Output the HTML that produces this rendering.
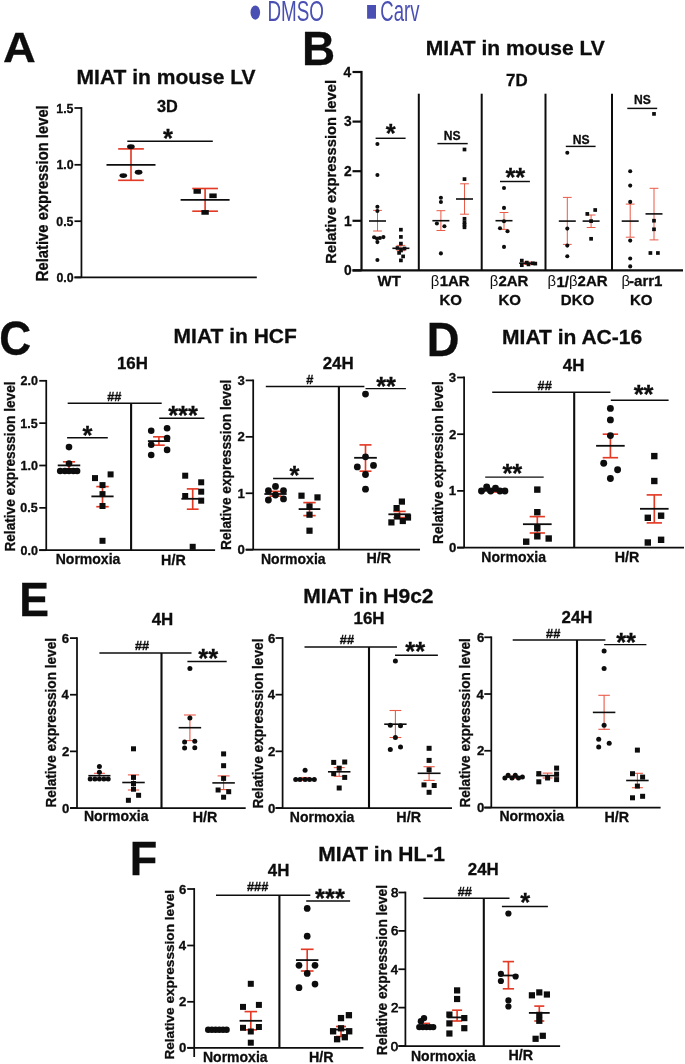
<!DOCTYPE html>
<html><head><meta charset="utf-8"><style>
html,body{margin:0;padding:0;background:#fff;width:685px;height:1064px;overflow:hidden}
svg{display:block;will-change:transform}
text{font-family:"Liberation Sans",sans-serif}
</style></head><body>
<svg width="685" height="1064" viewBox="0 0 685 1064">
<rect width="685" height="1064" fill="#fff"/>
<ellipse cx="255.30" cy="12.60" rx="4.8" ry="7.1" fill="#4a4fb4"/>
<rect x="367.1" y="5" width="8.9" height="13.7" fill="#4a4fb4"/>
<line x1="81.45" y1="107.12" x2="81.45" y2="277.40" stroke="#0d0d0d" stroke-width="1.75"/>
<line x1="74.45" y1="108.00" x2="81.45" y2="108.00" stroke="#0d0d0d" stroke-width="1.75"/>
<line x1="74.45" y1="164.80" x2="81.45" y2="164.80" stroke="#0d0d0d" stroke-width="1.75"/>
<line x1="74.45" y1="221.20" x2="81.45" y2="221.20" stroke="#0d0d0d" stroke-width="1.75"/>
<line x1="74.45" y1="277.40" x2="81.45" y2="277.40" stroke="#0d0d0d" stroke-width="1.75"/>
<line x1="74.50" y1="277.40" x2="256.80" y2="277.40" stroke="#0d0d0d" stroke-width="1.75"/>
<line x1="127.30" y1="141.30" x2="212.80" y2="141.30" stroke="#0d0d0d" stroke-width="1.45"/>
<line x1="131.00" y1="148.90" x2="131.00" y2="180.30" stroke="#e33a25" stroke-width="1.65"/>
<line x1="118.15" y1="148.90" x2="143.85" y2="148.90" stroke="#e33a25" stroke-width="1.65"/>
<line x1="118.15" y1="180.30" x2="143.85" y2="180.30" stroke="#e33a25" stroke-width="1.65"/>
<line x1="106.50" y1="164.80" x2="155.50" y2="164.80" stroke="#0d0d0d" stroke-width="1.8"/>
<ellipse cx="130.90" cy="146.70" rx="3.85" ry="2.45" fill="#0d0d0d"/>
<ellipse cx="123.30" cy="175.60" rx="3.85" ry="2.45" fill="#0d0d0d"/>
<ellipse cx="138.60" cy="172.30" rx="3.85" ry="2.45" fill="#0d0d0d"/>
<line x1="205.10" y1="188.50" x2="205.10" y2="211.20" stroke="#e33a25" stroke-width="1.65"/>
<line x1="192.25" y1="188.50" x2="217.95" y2="188.50" stroke="#e33a25" stroke-width="1.65"/>
<line x1="192.25" y1="211.20" x2="217.95" y2="211.20" stroke="#e33a25" stroke-width="1.65"/>
<line x1="180.60" y1="199.90" x2="229.60" y2="199.90" stroke="#0d0d0d" stroke-width="1.8"/>
<rect x="193.50" y="189.05" width="7.4" height="4.7" fill="#0d0d0d"/>
<rect x="209.30" y="193.45" width="7.4" height="4.7" fill="#0d0d0d"/>
<rect x="201.40" y="210.05" width="7.4" height="4.7" fill="#0d0d0d"/>
<line x1="361.50" y1="70.90" x2="361.50" y2="270.40" stroke="#0d0d0d" stroke-width="2.2"/>
<line x1="352.50" y1="72.00" x2="361.50" y2="72.00" stroke="#0d0d0d" stroke-width="2.2"/>
<line x1="352.50" y1="121.60" x2="361.50" y2="121.60" stroke="#0d0d0d" stroke-width="2.2"/>
<line x1="352.50" y1="171.20" x2="361.50" y2="171.20" stroke="#0d0d0d" stroke-width="2.2"/>
<line x1="352.50" y1="220.80" x2="361.50" y2="220.80" stroke="#0d0d0d" stroke-width="2.2"/>
<line x1="352.50" y1="270.40" x2="361.50" y2="270.40" stroke="#0d0d0d" stroke-width="2.2"/>
<line x1="352.50" y1="270.40" x2="683.00" y2="270.40" stroke="#0d0d0d" stroke-width="2.4"/>
<line x1="418.80" y1="93.70" x2="418.80" y2="270.40" stroke="#0d0d0d" stroke-width="2.0"/>
<line x1="481.70" y1="93.70" x2="481.70" y2="270.40" stroke="#0d0d0d" stroke-width="2.0"/>
<line x1="545.50" y1="93.70" x2="545.50" y2="270.40" stroke="#0d0d0d" stroke-width="2.0"/>
<line x1="612.00" y1="93.70" x2="612.00" y2="270.40" stroke="#0d0d0d" stroke-width="2.0"/>
<line x1="375.60" y1="138.30" x2="405.60" y2="138.30" stroke="#0d0d0d" stroke-width="1.45"/>
<line x1="437.40" y1="143.60" x2="467.70" y2="143.60" stroke="#0d0d0d" stroke-width="1.45"/>
<line x1="500.00" y1="181.50" x2="529.90" y2="181.50" stroke="#0d0d0d" stroke-width="1.45"/>
<line x1="565.80" y1="146.40" x2="595.60" y2="146.40" stroke="#0d0d0d" stroke-width="1.45"/>
<line x1="627.30" y1="108.40" x2="657.20" y2="108.40" stroke="#0d0d0d" stroke-width="1.45"/>
<line x1="377.50" y1="210.40" x2="377.50" y2="231.00" stroke="#e95a47" stroke-width="1.0"/>
<line x1="373.10" y1="210.40" x2="381.90" y2="210.40" stroke="#e95a47" stroke-width="1.0"/>
<line x1="373.10" y1="231.00" x2="381.90" y2="231.00" stroke="#e95a47" stroke-width="1.0"/>
<line x1="369.00" y1="221.00" x2="386.00" y2="221.00" stroke="#0d0d0d" stroke-width="1.6"/>
<circle cx="377.40" cy="144.00" r="2.05" fill="#0d0d0d"/>
<circle cx="377.40" cy="175.00" r="2.05" fill="#0d0d0d"/>
<circle cx="377.40" cy="206.70" r="2.05" fill="#0d0d0d"/>
<circle cx="377.40" cy="211.00" r="2.05" fill="#0d0d0d"/>
<circle cx="374.10" cy="237.30" r="2.05" fill="#0d0d0d"/>
<circle cx="377.00" cy="238.60" r="2.05" fill="#0d0d0d"/>
<circle cx="379.90" cy="238.00" r="2.05" fill="#0d0d0d"/>
<circle cx="383.40" cy="237.10" r="2.05" fill="#0d0d0d"/>
<circle cx="377.40" cy="242.10" r="2.05" fill="#0d0d0d"/>
<circle cx="377.40" cy="260.00" r="2.05" fill="#0d0d0d"/>
<line x1="400.90" y1="245.40" x2="400.90" y2="250.70" stroke="#e95a47" stroke-width="1.0"/>
<line x1="396.50" y1="245.40" x2="405.30" y2="245.40" stroke="#e95a47" stroke-width="1.0"/>
<line x1="396.50" y1="250.70" x2="405.30" y2="250.70" stroke="#e95a47" stroke-width="1.0"/>
<line x1="392.40" y1="248.30" x2="409.40" y2="248.30" stroke="#0d0d0d" stroke-width="1.6"/>
<rect x="399.05" y="227.85" width="3.7" height="3.7" fill="#0d0d0d"/>
<rect x="399.05" y="235.05" width="3.7" height="3.7" fill="#0d0d0d"/>
<rect x="399.05" y="241.75" width="3.7" height="3.7" fill="#0d0d0d"/>
<rect x="395.65" y="246.15" width="3.7" height="3.7" fill="#0d0d0d"/>
<rect x="402.65" y="246.65" width="3.7" height="3.7" fill="#0d0d0d"/>
<rect x="397.25" y="251.05" width="3.7" height="3.7" fill="#0d0d0d"/>
<rect x="401.25" y="254.55" width="3.7" height="3.7" fill="#0d0d0d"/>
<rect x="399.05" y="258.55" width="3.7" height="3.7" fill="#0d0d0d"/>
<rect x="399.15" y="248.65" width="3.7" height="3.7" fill="#0d0d0d"/>
<line x1="440.90" y1="210.70" x2="440.90" y2="230.50" stroke="#e95a47" stroke-width="1.0"/>
<line x1="436.50" y1="210.70" x2="445.30" y2="210.70" stroke="#e95a47" stroke-width="1.0"/>
<line x1="436.50" y1="230.50" x2="445.30" y2="230.50" stroke="#e95a47" stroke-width="1.0"/>
<line x1="432.40" y1="220.70" x2="449.40" y2="220.70" stroke="#0d0d0d" stroke-width="1.6"/>
<circle cx="440.90" cy="197.80" r="2.05" fill="#0d0d0d"/>
<circle cx="440.90" cy="202.00" r="2.05" fill="#0d0d0d"/>
<circle cx="436.90" cy="223.50" r="2.05" fill="#0d0d0d"/>
<circle cx="444.40" cy="226.30" r="2.05" fill="#0d0d0d"/>
<circle cx="440.90" cy="253.40" r="2.05" fill="#0d0d0d"/>
<line x1="464.50" y1="183.80" x2="464.50" y2="214.20" stroke="#e95a47" stroke-width="1.0"/>
<line x1="460.10" y1="183.80" x2="468.90" y2="183.80" stroke="#e95a47" stroke-width="1.0"/>
<line x1="460.10" y1="214.20" x2="468.90" y2="214.20" stroke="#e95a47" stroke-width="1.0"/>
<line x1="456.00" y1="199.00" x2="473.00" y2="199.00" stroke="#0d0d0d" stroke-width="1.6"/>
<rect x="462.65" y="147.65" width="3.7" height="3.7" fill="#0d0d0d"/>
<rect x="462.65" y="177.25" width="3.7" height="3.7" fill="#0d0d0d"/>
<rect x="462.65" y="216.95" width="3.7" height="3.7" fill="#0d0d0d"/>
<rect x="462.65" y="220.45" width="3.7" height="3.7" fill="#0d0d0d"/>
<rect x="462.65" y="222.85" width="3.7" height="3.7" fill="#0d0d0d"/>
<rect x="462.65" y="225.45" width="3.7" height="3.7" fill="#0d0d0d"/>
<line x1="504.00" y1="212.50" x2="504.00" y2="229.40" stroke="#e95a47" stroke-width="1.0"/>
<line x1="499.60" y1="212.50" x2="508.40" y2="212.50" stroke="#e95a47" stroke-width="1.0"/>
<line x1="499.60" y1="229.40" x2="508.40" y2="229.40" stroke="#e95a47" stroke-width="1.0"/>
<line x1="495.50" y1="220.70" x2="512.50" y2="220.70" stroke="#0d0d0d" stroke-width="1.6"/>
<circle cx="504.00" cy="188.00" r="2.05" fill="#0d0d0d"/>
<circle cx="504.00" cy="207.90" r="2.05" fill="#0d0d0d"/>
<circle cx="504.00" cy="221.20" r="2.05" fill="#0d0d0d"/>
<circle cx="500.00" cy="228.20" r="2.05" fill="#0d0d0d"/>
<circle cx="507.50" cy="231.20" r="2.05" fill="#0d0d0d"/>
<circle cx="504.00" cy="246.90" r="2.05" fill="#0d0d0d"/>
<line x1="527.75" y1="262.00" x2="527.75" y2="264.40" stroke="#e95a47" stroke-width="1.0"/>
<line x1="523.35" y1="262.00" x2="532.15" y2="262.00" stroke="#e95a47" stroke-width="1.0"/>
<line x1="523.35" y1="264.40" x2="532.15" y2="264.40" stroke="#e95a47" stroke-width="1.0"/>
<line x1="519.20" y1="263.20" x2="536.30" y2="263.20" stroke="#0d0d0d" stroke-width="1.6"/>
<rect x="519.95" y="258.75" width="3.7" height="3.7" fill="#0d0d0d"/>
<rect x="519.95" y="263.35" width="3.7" height="3.7" fill="#0d0d0d"/>
<rect x="524.95" y="260.75" width="3.7" height="3.7" fill="#0d0d0d"/>
<rect x="526.65" y="262.55" width="3.7" height="3.7" fill="#0d0d0d"/>
<rect x="530.95" y="261.45" width="3.7" height="3.7" fill="#0d0d0d"/>
<rect x="533.45" y="261.75" width="3.7" height="3.7" fill="#0d0d0d"/>
<line x1="567.30" y1="197.40" x2="567.30" y2="244.40" stroke="#e95a47" stroke-width="1.0"/>
<line x1="562.90" y1="197.40" x2="571.70" y2="197.40" stroke="#e95a47" stroke-width="1.0"/>
<line x1="562.90" y1="244.40" x2="571.70" y2="244.40" stroke="#e95a47" stroke-width="1.0"/>
<line x1="558.80" y1="221.10" x2="575.80" y2="221.10" stroke="#0d0d0d" stroke-width="1.6"/>
<circle cx="567.30" cy="152.80" r="2.05" fill="#0d0d0d"/>
<circle cx="567.30" cy="228.60" r="2.05" fill="#0d0d0d"/>
<circle cx="567.30" cy="245.60" r="2.05" fill="#0d0d0d"/>
<circle cx="567.30" cy="256.20" r="2.05" fill="#0d0d0d"/>
<line x1="591.10" y1="215.00" x2="591.10" y2="227.50" stroke="#e95a47" stroke-width="1.0"/>
<line x1="586.70" y1="215.00" x2="595.50" y2="215.00" stroke="#e95a47" stroke-width="1.0"/>
<line x1="586.70" y1="227.50" x2="595.50" y2="227.50" stroke="#e95a47" stroke-width="1.0"/>
<line x1="582.60" y1="221.10" x2="599.60" y2="221.10" stroke="#0d0d0d" stroke-width="1.6"/>
<rect x="585.45" y="212.05" width="3.7" height="3.7" fill="#0d0d0d"/>
<rect x="593.35" y="208.15" width="3.7" height="3.7" fill="#0d0d0d"/>
<rect x="589.25" y="219.25" width="3.7" height="3.7" fill="#0d0d0d"/>
<rect x="589.25" y="236.95" width="3.7" height="3.7" fill="#0d0d0d"/>
<line x1="630.20" y1="204.10" x2="630.20" y2="237.20" stroke="#e95a47" stroke-width="1.0"/>
<line x1="625.80" y1="204.10" x2="634.60" y2="204.10" stroke="#e95a47" stroke-width="1.0"/>
<line x1="625.80" y1="237.20" x2="634.60" y2="237.20" stroke="#e95a47" stroke-width="1.0"/>
<line x1="621.70" y1="221.10" x2="638.70" y2="221.10" stroke="#0d0d0d" stroke-width="1.6"/>
<circle cx="630.20" cy="171.30" r="2.05" fill="#0d0d0d"/>
<circle cx="630.20" cy="185.60" r="2.05" fill="#0d0d0d"/>
<circle cx="630.20" cy="201.90" r="2.05" fill="#0d0d0d"/>
<circle cx="630.20" cy="240.60" r="2.05" fill="#0d0d0d"/>
<circle cx="630.20" cy="258.50" r="2.05" fill="#0d0d0d"/>
<circle cx="630.20" cy="266.40" r="2.05" fill="#0d0d0d"/>
<line x1="654.00" y1="188.30" x2="654.00" y2="239.90" stroke="#e95a47" stroke-width="1.0"/>
<line x1="649.60" y1="188.30" x2="658.40" y2="188.30" stroke="#e95a47" stroke-width="1.0"/>
<line x1="649.60" y1="239.90" x2="658.40" y2="239.90" stroke="#e95a47" stroke-width="1.0"/>
<line x1="645.50" y1="213.90" x2="662.50" y2="213.90" stroke="#0d0d0d" stroke-width="1.6"/>
<rect x="652.15" y="112.05" width="3.7" height="3.7" fill="#0d0d0d"/>
<rect x="652.15" y="218.85" width="3.7" height="3.7" fill="#0d0d0d"/>
<rect x="652.15" y="227.45" width="3.7" height="3.7" fill="#0d0d0d"/>
<rect x="648.55" y="251.15" width="3.7" height="3.7" fill="#0d0d0d"/>
<rect x="656.05" y="251.15" width="3.7" height="3.7" fill="#0d0d0d"/>
<line x1="46.25" y1="379.93" x2="46.25" y2="550.20" stroke="#0d0d0d" stroke-width="1.75"/>
<line x1="39.25" y1="380.80" x2="46.25" y2="380.80" stroke="#0d0d0d" stroke-width="1.75"/>
<line x1="39.25" y1="423.15" x2="46.25" y2="423.15" stroke="#0d0d0d" stroke-width="1.75"/>
<line x1="39.25" y1="465.50" x2="46.25" y2="465.50" stroke="#0d0d0d" stroke-width="1.75"/>
<line x1="39.25" y1="507.85" x2="46.25" y2="507.85" stroke="#0d0d0d" stroke-width="1.75"/>
<line x1="39.25" y1="550.20" x2="46.25" y2="550.20" stroke="#0d0d0d" stroke-width="1.75"/>
<line x1="39.20" y1="550.20" x2="215.10" y2="550.20" stroke="#0d0d0d" stroke-width="1.75"/>
<line x1="131.10" y1="403.30" x2="131.10" y2="550.20" stroke="#0d0d0d" stroke-width="2.1"/>
<line x1="67.70" y1="403.30" x2="161.70" y2="403.30" stroke="#0d0d0d" stroke-width="1.45"/>
<line x1="67.10" y1="437.70" x2="107.80" y2="437.70" stroke="#0d0d0d" stroke-width="1.45"/>
<line x1="159.20" y1="418.30" x2="204.40" y2="418.30" stroke="#0d0d0d" stroke-width="1.45"/>
<line x1="69.00" y1="461.80" x2="69.00" y2="468.80" stroke="#e33a25" stroke-width="1.65"/>
<line x1="62.90" y1="461.80" x2="75.10" y2="461.80" stroke="#e33a25" stroke-width="1.65"/>
<line x1="62.90" y1="468.80" x2="75.10" y2="468.80" stroke="#e33a25" stroke-width="1.65"/>
<circle cx="69.00" cy="447.10" r="3.3" fill="#0d0d0d"/>
<circle cx="69.00" cy="463.50" r="3.3" fill="#0d0d0d"/>
<circle cx="60.20" cy="471.00" r="3.3" fill="#0d0d0d"/>
<circle cx="64.90" cy="471.00" r="3.3" fill="#0d0d0d"/>
<circle cx="69.00" cy="471.00" r="3.3" fill="#0d0d0d"/>
<circle cx="73.40" cy="471.00" r="3.3" fill="#0d0d0d"/>
<circle cx="77.10" cy="471.00" r="3.3" fill="#0d0d0d"/>
<line x1="57.75" y1="465.40" x2="80.25" y2="465.40" stroke="#0d0d0d" stroke-width="1.8"/>
<line x1="102.50" y1="486.60" x2="102.50" y2="506.70" stroke="#e33a25" stroke-width="1.65"/>
<line x1="96.30" y1="486.60" x2="108.70" y2="486.60" stroke="#e33a25" stroke-width="1.65"/>
<line x1="96.30" y1="506.70" x2="108.70" y2="506.70" stroke="#e33a25" stroke-width="1.65"/>
<rect x="92.00" y="475.10" width="6.0" height="6.0" fill="#0d0d0d"/>
<rect x="107.60" y="471.40" width="6.0" height="6.0" fill="#0d0d0d"/>
<rect x="99.50" y="482.10" width="6.0" height="6.0" fill="#0d0d0d"/>
<rect x="99.50" y="491.10" width="6.0" height="6.0" fill="#0d0d0d"/>
<rect x="99.50" y="503.00" width="6.0" height="6.0" fill="#0d0d0d"/>
<rect x="99.50" y="537.80" width="6.0" height="6.0" fill="#0d0d0d"/>
<line x1="91.40" y1="496.40" x2="113.60" y2="496.40" stroke="#0d0d0d" stroke-width="1.8"/>
<line x1="158.90" y1="436.80" x2="158.90" y2="445.20" stroke="#e33a25" stroke-width="1.65"/>
<line x1="153.05" y1="436.80" x2="164.75" y2="436.80" stroke="#e33a25" stroke-width="1.65"/>
<line x1="153.05" y1="445.20" x2="164.75" y2="445.20" stroke="#e33a25" stroke-width="1.65"/>
<circle cx="151.20" cy="430.70" r="3.3" fill="#0d0d0d"/>
<circle cx="167.10" cy="428.30" r="3.3" fill="#0d0d0d"/>
<circle cx="167.10" cy="438.10" r="3.3" fill="#0d0d0d"/>
<circle cx="151.20" cy="444.70" r="3.3" fill="#0d0d0d"/>
<circle cx="167.10" cy="449.90" r="3.3" fill="#0d0d0d"/>
<circle cx="151.20" cy="455.00" r="3.3" fill="#0d0d0d"/>
<line x1="147.90" y1="441.10" x2="169.90" y2="441.10" stroke="#0d0d0d" stroke-width="1.8"/>
<line x1="192.70" y1="488.90" x2="192.70" y2="509.20" stroke="#e33a25" stroke-width="1.65"/>
<line x1="186.80" y1="488.90" x2="198.60" y2="488.90" stroke="#e33a25" stroke-width="1.65"/>
<line x1="186.80" y1="509.20" x2="198.60" y2="509.20" stroke="#e33a25" stroke-width="1.65"/>
<rect x="182.20" y="472.70" width="6.0" height="6.0" fill="#0d0d0d"/>
<rect x="198.20" y="479.30" width="6.0" height="6.0" fill="#0d0d0d"/>
<rect x="198.20" y="488.70" width="6.0" height="6.0" fill="#0d0d0d"/>
<rect x="182.20" y="493.00" width="6.0" height="6.0" fill="#0d0d0d"/>
<rect x="198.20" y="497.70" width="6.0" height="6.0" fill="#0d0d0d"/>
<rect x="189.70" y="543.80" width="6.0" height="6.0" fill="#0d0d0d"/>
<line x1="181.40" y1="498.80" x2="204.00" y2="498.80" stroke="#0d0d0d" stroke-width="1.8"/>
<line x1="253.20" y1="379.54" x2="253.20" y2="549.70" stroke="#0d0d0d" stroke-width="1.75"/>
<line x1="245.70" y1="380.41" x2="253.20" y2="380.41" stroke="#0d0d0d" stroke-width="1.75"/>
<line x1="245.70" y1="436.84" x2="253.20" y2="436.84" stroke="#0d0d0d" stroke-width="1.75"/>
<line x1="245.70" y1="493.27" x2="253.20" y2="493.27" stroke="#0d0d0d" stroke-width="1.75"/>
<line x1="245.70" y1="549.70" x2="253.20" y2="549.70" stroke="#0d0d0d" stroke-width="1.75"/>
<line x1="245.70" y1="549.70" x2="420.00" y2="549.70" stroke="#0d0d0d" stroke-width="1.75"/>
<line x1="338.90" y1="386.50" x2="338.90" y2="549.70" stroke="#0d0d0d" stroke-width="2.1"/>
<line x1="265.80" y1="386.50" x2="364.40" y2="386.50" stroke="#0d0d0d" stroke-width="1.45"/>
<line x1="273.10" y1="478.40" x2="313.80" y2="478.40" stroke="#0d0d0d" stroke-width="1.45"/>
<line x1="365.50" y1="388.60" x2="405.90" y2="388.60" stroke="#0d0d0d" stroke-width="1.45"/>
<line x1="275.50" y1="491.40" x2="275.50" y2="496.10" stroke="#e33a25" stroke-width="1.65"/>
<line x1="269.50" y1="491.40" x2="281.50" y2="491.40" stroke="#e33a25" stroke-width="1.65"/>
<line x1="269.50" y1="496.10" x2="281.50" y2="496.10" stroke="#e33a25" stroke-width="1.65"/>
<circle cx="275.50" cy="486.40" r="3.4" fill="#0d0d0d"/>
<circle cx="268.40" cy="490.70" r="3.4" fill="#0d0d0d"/>
<circle cx="283.50" cy="490.70" r="3.4" fill="#0d0d0d"/>
<circle cx="275.50" cy="495.00" r="3.4" fill="#0d0d0d"/>
<circle cx="268.40" cy="500.00" r="3.4" fill="#0d0d0d"/>
<circle cx="283.50" cy="498.90" r="3.4" fill="#0d0d0d"/>
<line x1="264.35" y1="494.00" x2="286.65" y2="494.00" stroke="#0d0d0d" stroke-width="1.8"/>
<line x1="309.50" y1="502.60" x2="309.50" y2="515.60" stroke="#e33a25" stroke-width="1.65"/>
<line x1="303.30" y1="502.60" x2="315.70" y2="502.60" stroke="#e33a25" stroke-width="1.65"/>
<line x1="303.30" y1="515.60" x2="315.70" y2="515.60" stroke="#e33a25" stroke-width="1.65"/>
<rect x="298.40" y="492.60" width="6.2" height="6.2" fill="#0d0d0d"/>
<rect x="314.40" y="494.30" width="6.2" height="6.2" fill="#0d0d0d"/>
<rect x="306.40" y="503.40" width="6.2" height="6.2" fill="#0d0d0d"/>
<rect x="306.40" y="511.60" width="6.2" height="6.2" fill="#0d0d0d"/>
<rect x="306.40" y="527.60" width="6.2" height="6.2" fill="#0d0d0d"/>
<line x1="298.65" y1="509.10" x2="320.35" y2="509.10" stroke="#0d0d0d" stroke-width="1.8"/>
<line x1="365.50" y1="444.90" x2="365.50" y2="471.20" stroke="#e33a25" stroke-width="1.65"/>
<line x1="359.50" y1="444.90" x2="371.50" y2="444.90" stroke="#e33a25" stroke-width="1.65"/>
<line x1="359.50" y1="471.20" x2="371.50" y2="471.20" stroke="#e33a25" stroke-width="1.65"/>
<circle cx="365.50" cy="394.10" r="3.4" fill="#0d0d0d"/>
<circle cx="365.50" cy="456.80" r="3.4" fill="#0d0d0d"/>
<circle cx="357.30" cy="466.90" r="3.4" fill="#0d0d0d"/>
<circle cx="373.50" cy="465.40" r="3.4" fill="#0d0d0d"/>
<circle cx="365.50" cy="474.50" r="3.4" fill="#0d0d0d"/>
<circle cx="365.50" cy="489.20" r="3.4" fill="#0d0d0d"/>
<line x1="354.15" y1="457.80" x2="376.85" y2="457.80" stroke="#0d0d0d" stroke-width="1.8"/>
<line x1="399.50" y1="511.40" x2="399.50" y2="517.60" stroke="#e33a25" stroke-width="1.65"/>
<line x1="393.30" y1="511.40" x2="405.70" y2="511.40" stroke="#e33a25" stroke-width="1.65"/>
<line x1="393.30" y1="517.60" x2="405.70" y2="517.60" stroke="#e33a25" stroke-width="1.65"/>
<rect x="398.80" y="498.50" width="6.2" height="6.2" fill="#0d0d0d"/>
<rect x="393.50" y="505.00" width="6.2" height="6.2" fill="#0d0d0d"/>
<rect x="394.10" y="513.40" width="6.2" height="6.2" fill="#0d0d0d"/>
<rect x="399.70" y="517.90" width="6.2" height="6.2" fill="#0d0d0d"/>
<rect x="404.90" y="514.40" width="6.2" height="6.2" fill="#0d0d0d"/>
<rect x="388.30" y="519.30" width="6.2" height="6.2" fill="#0d0d0d"/>
<line x1="388.40" y1="514.30" x2="410.60" y2="514.30" stroke="#0d0d0d" stroke-width="1.8"/>
<line x1="464.10" y1="376.62" x2="464.10" y2="547.60" stroke="#0d0d0d" stroke-width="1.75"/>
<line x1="457.10" y1="377.50" x2="464.10" y2="377.50" stroke="#0d0d0d" stroke-width="1.75"/>
<line x1="457.10" y1="434.20" x2="464.10" y2="434.20" stroke="#0d0d0d" stroke-width="1.75"/>
<line x1="457.10" y1="490.90" x2="464.10" y2="490.90" stroke="#0d0d0d" stroke-width="1.75"/>
<line x1="457.10" y1="547.60" x2="464.10" y2="547.60" stroke="#0d0d0d" stroke-width="1.75"/>
<line x1="457.20" y1="547.60" x2="684.00" y2="547.60" stroke="#0d0d0d" stroke-width="1.75"/>
<line x1="574.20" y1="392.30" x2="574.20" y2="547.60" stroke="#0d0d0d" stroke-width="2.1"/>
<line x1="492.20" y1="392.30" x2="610.40" y2="392.30" stroke="#0d0d0d" stroke-width="1.45"/>
<line x1="485.20" y1="477.10" x2="543.70" y2="477.10" stroke="#0d0d0d" stroke-width="1.45"/>
<line x1="610.80" y1="400.30" x2="668.60" y2="400.30" stroke="#0d0d0d" stroke-width="1.45"/>
<line x1="493.20" y1="489.50" x2="493.20" y2="492.00" stroke="#e33a25" stroke-width="1.65"/>
<line x1="487.20" y1="489.50" x2="499.20" y2="489.50" stroke="#e33a25" stroke-width="1.65"/>
<line x1="487.20" y1="492.00" x2="499.20" y2="492.00" stroke="#e33a25" stroke-width="1.65"/>
<circle cx="481.50" cy="491.00" r="3.45" fill="#0d0d0d"/>
<circle cx="486.70" cy="487.00" r="3.45" fill="#0d0d0d"/>
<circle cx="490.70" cy="491.00" r="3.45" fill="#0d0d0d"/>
<circle cx="495.50" cy="488.30" r="3.45" fill="#0d0d0d"/>
<circle cx="499.90" cy="491.00" r="3.45" fill="#0d0d0d"/>
<circle cx="504.90" cy="491.00" r="3.45" fill="#0d0d0d"/>
<line x1="481.20" y1="490.80" x2="505.20" y2="490.80" stroke="#0d0d0d" stroke-width="1.8"/>
<line x1="537.30" y1="516.60" x2="537.30" y2="533.00" stroke="#e33a25" stroke-width="1.65"/>
<line x1="529.65" y1="516.60" x2="544.95" y2="516.60" stroke="#e33a25" stroke-width="1.65"/>
<line x1="529.65" y1="533.00" x2="544.95" y2="533.00" stroke="#e33a25" stroke-width="1.65"/>
<rect x="534.10" y="486.40" width="6.4" height="6.4" fill="#0d0d0d"/>
<rect x="534.10" y="509.00" width="6.4" height="6.4" fill="#0d0d0d"/>
<rect x="534.10" y="525.00" width="6.4" height="6.4" fill="#0d0d0d"/>
<rect x="534.10" y="533.10" width="6.4" height="6.4" fill="#0d0d0d"/>
<rect x="523.00" y="538.50" width="6.4" height="6.4" fill="#0d0d0d"/>
<rect x="545.50" y="535.30" width="6.4" height="6.4" fill="#0d0d0d"/>
<line x1="522.95" y1="524.20" x2="551.65" y2="524.20" stroke="#0d0d0d" stroke-width="1.8"/>
<line x1="610.40" y1="434.20" x2="610.40" y2="457.70" stroke="#e33a25" stroke-width="1.65"/>
<line x1="602.70" y1="434.20" x2="618.10" y2="434.20" stroke="#e33a25" stroke-width="1.65"/>
<line x1="602.70" y1="457.70" x2="618.10" y2="457.70" stroke="#e33a25" stroke-width="1.65"/>
<circle cx="610.40" cy="408.40" r="3.45" fill="#0d0d0d"/>
<circle cx="610.40" cy="419.90" r="3.45" fill="#0d0d0d"/>
<circle cx="610.40" cy="435.60" r="3.45" fill="#0d0d0d"/>
<circle cx="603.70" cy="463.20" r="3.45" fill="#0d0d0d"/>
<circle cx="617.60" cy="469.70" r="3.45" fill="#0d0d0d"/>
<circle cx="610.40" cy="478.50" r="3.45" fill="#0d0d0d"/>
<line x1="596.10" y1="445.80" x2="624.70" y2="445.80" stroke="#0d0d0d" stroke-width="1.8"/>
<line x1="654.30" y1="494.90" x2="654.30" y2="522.90" stroke="#e33a25" stroke-width="1.65"/>
<line x1="646.65" y1="494.90" x2="661.95" y2="494.90" stroke="#e33a25" stroke-width="1.65"/>
<line x1="646.65" y1="522.90" x2="661.95" y2="522.90" stroke="#e33a25" stroke-width="1.65"/>
<rect x="651.10" y="452.90" width="6.4" height="6.4" fill="#0d0d0d"/>
<rect x="651.10" y="477.80" width="6.4" height="6.4" fill="#0d0d0d"/>
<rect x="644.60" y="514.60" width="6.4" height="6.4" fill="#0d0d0d"/>
<rect x="657.90" y="512.50" width="6.4" height="6.4" fill="#0d0d0d"/>
<rect x="644.60" y="539.30" width="6.4" height="6.4" fill="#0d0d0d"/>
<rect x="657.90" y="536.60" width="6.4" height="6.4" fill="#0d0d0d"/>
<line x1="640.00" y1="508.80" x2="668.60" y2="508.80" stroke="#0d0d0d" stroke-width="1.8"/>
<line x1="77.00" y1="637.23" x2="77.00" y2="808.00" stroke="#0d0d0d" stroke-width="1.75"/>
<line x1="70.00" y1="638.10" x2="77.00" y2="638.10" stroke="#0d0d0d" stroke-width="1.75"/>
<line x1="70.00" y1="694.73" x2="77.00" y2="694.73" stroke="#0d0d0d" stroke-width="1.75"/>
<line x1="70.00" y1="751.37" x2="77.00" y2="751.37" stroke="#0d0d0d" stroke-width="1.75"/>
<line x1="70.00" y1="808.00" x2="77.00" y2="808.00" stroke="#0d0d0d" stroke-width="1.75"/>
<line x1="70.00" y1="808.00" x2="245.70" y2="808.00" stroke="#0d0d0d" stroke-width="1.75"/>
<line x1="161.50" y1="653.00" x2="161.50" y2="808.00" stroke="#0d0d0d" stroke-width="2.1"/>
<line x1="99.40" y1="653.00" x2="191.50" y2="653.00" stroke="#0d0d0d" stroke-width="1.45"/>
<line x1="187.40" y1="661.50" x2="226.70" y2="661.50" stroke="#0d0d0d" stroke-width="1.45"/>
<line x1="99.40" y1="773.30" x2="99.40" y2="778.40" stroke="#ea5a48" stroke-width="1.1"/>
<line x1="93.90" y1="773.30" x2="104.90" y2="773.30" stroke="#ea5a48" stroke-width="1.1"/>
<line x1="93.90" y1="778.40" x2="104.90" y2="778.40" stroke="#ea5a48" stroke-width="1.1"/>
<circle cx="99.40" cy="766.50" r="2.5" fill="#0d0d0d"/>
<circle cx="99.40" cy="772.30" r="2.5" fill="#0d0d0d"/>
<circle cx="90.20" cy="779.00" r="2.5" fill="#0d0d0d"/>
<circle cx="94.90" cy="779.00" r="2.5" fill="#0d0d0d"/>
<circle cx="99.40" cy="779.00" r="2.5" fill="#0d0d0d"/>
<circle cx="103.90" cy="779.00" r="2.5" fill="#0d0d0d"/>
<circle cx="108.20" cy="779.00" r="2.5" fill="#0d0d0d"/>
<line x1="88.35" y1="775.70" x2="110.45" y2="775.70" stroke="#0d0d0d" stroke-width="1.6"/>
<line x1="133.50" y1="774.90" x2="133.50" y2="790.00" stroke="#ea5a48" stroke-width="1.1"/>
<line x1="127.90" y1="774.90" x2="139.10" y2="774.90" stroke="#ea5a48" stroke-width="1.1"/>
<line x1="127.90" y1="790.00" x2="139.10" y2="790.00" stroke="#ea5a48" stroke-width="1.1"/>
<rect x="131.00" y="746.30" width="5.0" height="5.0" fill="#0d0d0d"/>
<rect x="131.00" y="774.90" width="5.0" height="5.0" fill="#0d0d0d"/>
<rect x="131.00" y="781.00" width="5.0" height="5.0" fill="#0d0d0d"/>
<rect x="131.00" y="786.70" width="5.0" height="5.0" fill="#0d0d0d"/>
<rect x="136.10" y="792.80" width="5.0" height="5.0" fill="#0d0d0d"/>
<rect x="125.90" y="797.80" width="5.0" height="5.0" fill="#0d0d0d"/>
<line x1="122.25" y1="782.50" x2="144.75" y2="782.50" stroke="#0d0d0d" stroke-width="1.6"/>
<line x1="189.90" y1="715.00" x2="189.90" y2="740.60" stroke="#ea5a48" stroke-width="1.1"/>
<line x1="184.00" y1="715.00" x2="195.80" y2="715.00" stroke="#ea5a48" stroke-width="1.1"/>
<line x1="184.00" y1="740.60" x2="195.80" y2="740.60" stroke="#ea5a48" stroke-width="1.1"/>
<circle cx="189.90" cy="668.40" r="2.5" fill="#0d0d0d"/>
<circle cx="189.90" cy="718.10" r="2.5" fill="#0d0d0d"/>
<circle cx="184.60" cy="742.00" r="2.5" fill="#0d0d0d"/>
<circle cx="194.80" cy="741.20" r="2.5" fill="#0d0d0d"/>
<circle cx="184.60" cy="748.10" r="2.5" fill="#0d0d0d"/>
<circle cx="194.80" cy="747.70" r="2.5" fill="#0d0d0d"/>
<line x1="178.65" y1="727.70" x2="201.15" y2="727.70" stroke="#0d0d0d" stroke-width="1.6"/>
<line x1="223.60" y1="775.90" x2="223.60" y2="789.60" stroke="#ea5a48" stroke-width="1.1"/>
<line x1="217.60" y1="775.90" x2="229.60" y2="775.90" stroke="#ea5a48" stroke-width="1.1"/>
<line x1="217.60" y1="789.60" x2="229.60" y2="789.60" stroke="#ea5a48" stroke-width="1.1"/>
<rect x="221.10" y="751.40" width="5.0" height="5.0" fill="#0d0d0d"/>
<rect x="221.10" y="763.20" width="5.0" height="5.0" fill="#0d0d0d"/>
<rect x="221.10" y="775.90" width="5.0" height="5.0" fill="#0d0d0d"/>
<rect x="215.60" y="787.50" width="5.0" height="5.0" fill="#0d0d0d"/>
<rect x="226.20" y="789.20" width="5.0" height="5.0" fill="#0d0d0d"/>
<rect x="221.10" y="794.70" width="5.0" height="5.0" fill="#0d0d0d"/>
<line x1="212.35" y1="782.90" x2="234.85" y2="782.90" stroke="#0d0d0d" stroke-width="1.6"/>
<line x1="282.60" y1="637.12" x2="282.60" y2="808.00" stroke="#0d0d0d" stroke-width="1.75"/>
<line x1="275.60" y1="638.00" x2="282.60" y2="638.00" stroke="#0d0d0d" stroke-width="1.75"/>
<line x1="275.60" y1="694.67" x2="282.60" y2="694.67" stroke="#0d0d0d" stroke-width="1.75"/>
<line x1="275.60" y1="751.33" x2="282.60" y2="751.33" stroke="#0d0d0d" stroke-width="1.75"/>
<line x1="275.60" y1="808.00" x2="282.60" y2="808.00" stroke="#0d0d0d" stroke-width="1.75"/>
<line x1="275.60" y1="808.00" x2="452.00" y2="808.00" stroke="#0d0d0d" stroke-width="1.75"/>
<line x1="369.00" y1="647.00" x2="369.00" y2="808.00" stroke="#0d0d0d" stroke-width="2.1"/>
<line x1="304.50" y1="647.00" x2="397.00" y2="647.00" stroke="#0d0d0d" stroke-width="1.45"/>
<line x1="395.00" y1="655.20" x2="437.90" y2="655.20" stroke="#0d0d0d" stroke-width="1.45"/>
<line x1="305.10" y1="777.50" x2="305.10" y2="780.50" stroke="#ea5a48" stroke-width="1.1"/>
<line x1="301.10" y1="777.50" x2="309.10" y2="777.50" stroke="#ea5a48" stroke-width="1.1"/>
<line x1="301.10" y1="780.50" x2="309.10" y2="780.50" stroke="#ea5a48" stroke-width="1.1"/>
<circle cx="305.10" cy="770.20" r="2.5" fill="#0d0d0d"/>
<circle cx="295.70" cy="779.40" r="2.5" fill="#0d0d0d"/>
<circle cx="300.00" cy="779.40" r="2.5" fill="#0d0d0d"/>
<circle cx="305.10" cy="779.40" r="2.5" fill="#0d0d0d"/>
<circle cx="309.60" cy="779.40" r="2.5" fill="#0d0d0d"/>
<circle cx="314.30" cy="779.40" r="2.5" fill="#0d0d0d"/>
<line x1="294.10" y1="779.00" x2="316.10" y2="779.00" stroke="#0d0d0d" stroke-width="1.6"/>
<line x1="339.20" y1="767.60" x2="339.20" y2="776.30" stroke="#ea5a48" stroke-width="1.1"/>
<line x1="333.70" y1="767.60" x2="344.70" y2="767.60" stroke="#ea5a48" stroke-width="1.1"/>
<line x1="333.70" y1="776.30" x2="344.70" y2="776.30" stroke="#ea5a48" stroke-width="1.1"/>
<rect x="331.20" y="759.90" width="5.0" height="5.0" fill="#0d0d0d"/>
<rect x="342.20" y="759.50" width="5.0" height="5.0" fill="#0d0d0d"/>
<rect x="336.70" y="765.70" width="5.0" height="5.0" fill="#0d0d0d"/>
<rect x="331.20" y="771.20" width="5.0" height="5.0" fill="#0d0d0d"/>
<rect x="342.20" y="774.90" width="5.0" height="5.0" fill="#0d0d0d"/>
<rect x="336.70" y="785.50" width="5.0" height="5.0" fill="#0d0d0d"/>
<line x1="327.95" y1="771.80" x2="350.45" y2="771.80" stroke="#0d0d0d" stroke-width="1.6"/>
<line x1="395.40" y1="710.50" x2="395.40" y2="737.50" stroke="#ea5a48" stroke-width="1.1"/>
<line x1="389.50" y1="710.50" x2="401.30" y2="710.50" stroke="#ea5a48" stroke-width="1.1"/>
<line x1="389.50" y1="737.50" x2="401.30" y2="737.50" stroke="#ea5a48" stroke-width="1.1"/>
<circle cx="395.40" cy="660.90" r="2.5" fill="#0d0d0d"/>
<circle cx="390.30" cy="725.30" r="2.5" fill="#0d0d0d"/>
<circle cx="400.50" cy="725.70" r="2.5" fill="#0d0d0d"/>
<circle cx="395.40" cy="737.50" r="2.5" fill="#0d0d0d"/>
<circle cx="390.30" cy="749.40" r="2.5" fill="#0d0d0d"/>
<circle cx="400.50" cy="747.10" r="2.5" fill="#0d0d0d"/>
<line x1="384.20" y1="724.20" x2="406.60" y2="724.20" stroke="#0d0d0d" stroke-width="1.6"/>
<line x1="429.10" y1="766.70" x2="429.10" y2="780.40" stroke="#ea5a48" stroke-width="1.1"/>
<line x1="423.50" y1="766.70" x2="434.70" y2="766.70" stroke="#ea5a48" stroke-width="1.1"/>
<line x1="423.50" y1="780.40" x2="434.70" y2="780.40" stroke="#ea5a48" stroke-width="1.1"/>
<rect x="426.60" y="745.80" width="5.0" height="5.0" fill="#0d0d0d"/>
<rect x="426.60" y="757.90" width="5.0" height="5.0" fill="#0d0d0d"/>
<rect x="426.60" y="767.30" width="5.0" height="5.0" fill="#0d0d0d"/>
<rect x="421.50" y="782.40" width="5.0" height="5.0" fill="#0d0d0d"/>
<rect x="431.70" y="783.00" width="5.0" height="5.0" fill="#0d0d0d"/>
<rect x="426.60" y="789.80" width="5.0" height="5.0" fill="#0d0d0d"/>
<line x1="417.65" y1="773.30" x2="440.55" y2="773.30" stroke="#0d0d0d" stroke-width="1.6"/>
<line x1="491.30" y1="636.42" x2="491.30" y2="807.50" stroke="#0d0d0d" stroke-width="1.75"/>
<line x1="484.30" y1="637.30" x2="491.30" y2="637.30" stroke="#0d0d0d" stroke-width="1.75"/>
<line x1="484.30" y1="694.03" x2="491.30" y2="694.03" stroke="#0d0d0d" stroke-width="1.75"/>
<line x1="484.30" y1="750.77" x2="491.30" y2="750.77" stroke="#0d0d0d" stroke-width="1.75"/>
<line x1="484.30" y1="807.50" x2="491.30" y2="807.50" stroke="#0d0d0d" stroke-width="1.75"/>
<line x1="484.30" y1="807.50" x2="660.60" y2="807.50" stroke="#0d0d0d" stroke-width="1.75"/>
<line x1="577.00" y1="640.00" x2="577.00" y2="807.50" stroke="#0d0d0d" stroke-width="2.1"/>
<line x1="512.70" y1="640.00" x2="605.40" y2="640.00" stroke="#0d0d0d" stroke-width="1.45"/>
<line x1="604.10" y1="644.60" x2="646.40" y2="644.60" stroke="#0d0d0d" stroke-width="1.45"/>
<line x1="513.50" y1="776.00" x2="513.50" y2="778.50" stroke="#ea5a48" stroke-width="1.1"/>
<line x1="509.50" y1="776.00" x2="517.50" y2="776.00" stroke="#ea5a48" stroke-width="1.1"/>
<line x1="509.50" y1="778.50" x2="517.50" y2="778.50" stroke="#ea5a48" stroke-width="1.1"/>
<circle cx="504.90" cy="778.00" r="2.5" fill="#0d0d0d"/>
<circle cx="508.10" cy="775.30" r="2.5" fill="#0d0d0d"/>
<circle cx="512.00" cy="778.00" r="2.5" fill="#0d0d0d"/>
<circle cx="515.30" cy="775.30" r="2.5" fill="#0d0d0d"/>
<circle cx="518.50" cy="778.00" r="2.5" fill="#0d0d0d"/>
<circle cx="522.40" cy="776.90" r="2.5" fill="#0d0d0d"/>
<line x1="503.50" y1="777.00" x2="523.50" y2="777.00" stroke="#0d0d0d" stroke-width="1.6"/>
<line x1="547.60" y1="773.10" x2="547.60" y2="778.00" stroke="#ea5a48" stroke-width="1.1"/>
<line x1="542.60" y1="773.10" x2="552.60" y2="773.10" stroke="#ea5a48" stroke-width="1.1"/>
<line x1="542.60" y1="778.00" x2="552.60" y2="778.00" stroke="#ea5a48" stroke-width="1.1"/>
<rect x="536.30" y="771.10" width="5.0" height="5.0" fill="#0d0d0d"/>
<rect x="536.30" y="779.30" width="5.0" height="5.0" fill="#0d0d0d"/>
<rect x="545.10" y="775.50" width="5.0" height="5.0" fill="#0d0d0d"/>
<rect x="554.10" y="765.60" width="5.0" height="5.0" fill="#0d0d0d"/>
<rect x="554.10" y="771.70" width="5.0" height="5.0" fill="#0d0d0d"/>
<rect x="554.10" y="777.10" width="5.0" height="5.0" fill="#0d0d0d"/>
<line x1="536.35" y1="775.60" x2="558.85" y2="775.60" stroke="#0d0d0d" stroke-width="1.6"/>
<line x1="604.10" y1="695.30" x2="604.10" y2="729.30" stroke="#ea5a48" stroke-width="1.1"/>
<line x1="598.35" y1="695.30" x2="609.85" y2="695.30" stroke="#ea5a48" stroke-width="1.1"/>
<line x1="598.35" y1="729.30" x2="609.85" y2="729.30" stroke="#ea5a48" stroke-width="1.1"/>
<circle cx="604.10" cy="650.90" r="2.5" fill="#0d0d0d"/>
<circle cx="604.10" cy="668.40" r="2.5" fill="#0d0d0d"/>
<circle cx="604.10" cy="725.30" r="2.5" fill="#0d0d0d"/>
<circle cx="598.70" cy="739.20" r="2.5" fill="#0d0d0d"/>
<circle cx="609.20" cy="743.30" r="2.5" fill="#0d0d0d"/>
<circle cx="598.70" cy="747.10" r="2.5" fill="#0d0d0d"/>
<line x1="592.85" y1="712.40" x2="615.35" y2="712.40" stroke="#0d0d0d" stroke-width="1.6"/>
<line x1="637.40" y1="773.30" x2="637.40" y2="787.70" stroke="#ea5a48" stroke-width="1.1"/>
<line x1="631.90" y1="773.30" x2="642.90" y2="773.30" stroke="#ea5a48" stroke-width="1.1"/>
<line x1="631.90" y1="787.70" x2="642.90" y2="787.70" stroke="#ea5a48" stroke-width="1.1"/>
<rect x="634.90" y="747.60" width="5.0" height="5.0" fill="#0d0d0d"/>
<rect x="630.00" y="771.20" width="5.0" height="5.0" fill="#0d0d0d"/>
<rect x="640.10" y="774.60" width="5.0" height="5.0" fill="#0d0d0d"/>
<rect x="634.90" y="783.60" width="5.0" height="5.0" fill="#0d0d0d"/>
<rect x="630.00" y="795.30" width="5.0" height="5.0" fill="#0d0d0d"/>
<rect x="640.10" y="793.80" width="5.0" height="5.0" fill="#0d0d0d"/>
<line x1="626.15" y1="780.50" x2="648.65" y2="780.50" stroke="#0d0d0d" stroke-width="1.6"/>
<line x1="194.20" y1="888.12" x2="194.20" y2="1057.00" stroke="#0d0d0d" stroke-width="1.75"/>
<line x1="187.20" y1="889.00" x2="194.20" y2="889.00" stroke="#0d0d0d" stroke-width="1.75"/>
<line x1="187.20" y1="945.50" x2="194.20" y2="945.50" stroke="#0d0d0d" stroke-width="1.75"/>
<line x1="187.20" y1="1001.80" x2="194.20" y2="1001.80" stroke="#0d0d0d" stroke-width="1.75"/>
<line x1="187.20" y1="1047.80" x2="194.20" y2="1047.80" stroke="#0d0d0d" stroke-width="1.75"/>
<line x1="187.40" y1="1047.80" x2="363.40" y2="1047.80" stroke="#0d0d0d" stroke-width="1.8"/>
<line x1="279.40" y1="895.20" x2="279.40" y2="1047.80" stroke="#0d0d0d" stroke-width="2.1"/>
<line x1="216.00" y1="895.20" x2="310.30" y2="895.20" stroke="#0d0d0d" stroke-width="1.45"/>
<line x1="306.20" y1="900.90" x2="350.10" y2="900.90" stroke="#0d0d0d" stroke-width="1.45"/>
<line x1="217.40" y1="1028.50" x2="217.40" y2="1030.50" stroke="#e33a25" stroke-width="1.65"/>
<line x1="212.40" y1="1028.50" x2="222.40" y2="1028.50" stroke="#e33a25" stroke-width="1.65"/>
<line x1="212.40" y1="1030.50" x2="222.40" y2="1030.50" stroke="#e33a25" stroke-width="1.65"/>
<circle cx="208.20" cy="1029.80" r="3.2" fill="#0d0d0d"/>
<circle cx="211.90" cy="1029.80" r="3.2" fill="#0d0d0d"/>
<circle cx="215.60" cy="1029.80" r="3.2" fill="#0d0d0d"/>
<circle cx="219.30" cy="1029.80" r="3.2" fill="#0d0d0d"/>
<circle cx="223.00" cy="1029.80" r="3.2" fill="#0d0d0d"/>
<circle cx="226.60" cy="1029.80" r="3.2" fill="#0d0d0d"/>
<line x1="206.40" y1="1029.50" x2="228.40" y2="1029.50" stroke="#0d0d0d" stroke-width="1.8"/>
<line x1="250.80" y1="1011.60" x2="250.80" y2="1029.80" stroke="#e33a25" stroke-width="1.65"/>
<line x1="244.55" y1="1011.60" x2="257.05" y2="1011.60" stroke="#e33a25" stroke-width="1.65"/>
<line x1="244.55" y1="1029.80" x2="257.05" y2="1029.80" stroke="#e33a25" stroke-width="1.65"/>
<rect x="247.80" y="980.80" width="6.0" height="6.0" fill="#0d0d0d"/>
<rect x="240.00" y="1003.90" width="6.0" height="6.0" fill="#0d0d0d"/>
<rect x="255.90" y="1001.90" width="6.0" height="6.0" fill="#0d0d0d"/>
<rect x="240.00" y="1024.80" width="6.0" height="6.0" fill="#0d0d0d"/>
<rect x="255.90" y="1024.00" width="6.0" height="6.0" fill="#0d0d0d"/>
<rect x="247.80" y="1028.50" width="6.0" height="6.0" fill="#0d0d0d"/>
<rect x="247.80" y="1039.70" width="6.0" height="6.0" fill="#0d0d0d"/>
<line x1="239.55" y1="1020.80" x2="262.05" y2="1020.80" stroke="#0d0d0d" stroke-width="1.8"/>
<line x1="307.20" y1="949.30" x2="307.20" y2="971.00" stroke="#e33a25" stroke-width="1.65"/>
<line x1="300.85" y1="949.30" x2="313.55" y2="949.30" stroke="#e33a25" stroke-width="1.65"/>
<line x1="300.85" y1="971.00" x2="313.55" y2="971.00" stroke="#e33a25" stroke-width="1.65"/>
<circle cx="307.20" cy="908.40" r="3.35" fill="#0d0d0d"/>
<circle cx="307.20" cy="936.20" r="3.35" fill="#0d0d0d"/>
<circle cx="299.00" cy="965.30" r="3.35" fill="#0d0d0d"/>
<circle cx="315.00" cy="965.30" r="3.35" fill="#0d0d0d"/>
<circle cx="307.20" cy="973.40" r="3.35" fill="#0d0d0d"/>
<circle cx="299.00" cy="987.70" r="3.35" fill="#0d0d0d"/>
<circle cx="315.00" cy="984.10" r="3.35" fill="#0d0d0d"/>
<line x1="295.95" y1="960.10" x2="318.45" y2="960.10" stroke="#0d0d0d" stroke-width="1.8"/>
<line x1="341.00" y1="1026.50" x2="341.00" y2="1036.50" stroke="#e33a25" stroke-width="1.65"/>
<line x1="336.00" y1="1026.50" x2="346.00" y2="1026.50" stroke="#e33a25" stroke-width="1.65"/>
<line x1="336.00" y1="1036.50" x2="346.00" y2="1036.50" stroke="#e33a25" stroke-width="1.65"/>
<rect x="337.85" y="1014.95" width="6.3" height="6.3" fill="#0d0d0d"/>
<rect x="345.75" y="1012.05" width="6.3" height="6.3" fill="#0d0d0d"/>
<rect x="329.95" y="1028.15" width="6.3" height="6.3" fill="#0d0d0d"/>
<rect x="337.85" y="1025.15" width="6.3" height="6.3" fill="#0d0d0d"/>
<rect x="346.05" y="1028.15" width="6.3" height="6.3" fill="#0d0d0d"/>
<rect x="333.95" y="1036.05" width="6.3" height="6.3" fill="#0d0d0d"/>
<rect x="341.65" y="1034.05" width="6.3" height="6.3" fill="#0d0d0d"/>
<line x1="330.00" y1="1029.60" x2="352.00" y2="1029.60" stroke="#0d0d0d" stroke-width="1.8"/>
<line x1="405.40" y1="891.62" x2="405.40" y2="1046.00" stroke="#0d0d0d" stroke-width="1.75"/>
<line x1="398.40" y1="892.50" x2="405.40" y2="892.50" stroke="#0d0d0d" stroke-width="1.75"/>
<line x1="398.40" y1="930.88" x2="405.40" y2="930.88" stroke="#0d0d0d" stroke-width="1.75"/>
<line x1="398.40" y1="969.25" x2="405.40" y2="969.25" stroke="#0d0d0d" stroke-width="1.75"/>
<line x1="398.40" y1="1007.62" x2="405.40" y2="1007.62" stroke="#0d0d0d" stroke-width="1.75"/>
<line x1="398.40" y1="1046.00" x2="405.40" y2="1046.00" stroke="#0d0d0d" stroke-width="1.75"/>
<line x1="398.50" y1="1046.00" x2="560.10" y2="1046.00" stroke="#0d0d0d" stroke-width="1.75"/>
<line x1="483.80" y1="898.20" x2="483.80" y2="1046.00" stroke="#0d0d0d" stroke-width="2.1"/>
<line x1="423.40" y1="898.20" x2="509.50" y2="898.20" stroke="#0d0d0d" stroke-width="1.45"/>
<line x1="501.90" y1="906.40" x2="547.90" y2="906.40" stroke="#0d0d0d" stroke-width="1.45"/>
<line x1="426.50" y1="1023.40" x2="426.50" y2="1028.00" stroke="#e33a25" stroke-width="1.65"/>
<line x1="422.90" y1="1023.40" x2="430.10" y2="1023.40" stroke="#e33a25" stroke-width="1.65"/>
<line x1="422.90" y1="1028.00" x2="430.10" y2="1028.00" stroke="#e33a25" stroke-width="1.65"/>
<circle cx="424.00" cy="1018.10" r="3.2" fill="#0d0d0d"/>
<circle cx="420.90" cy="1021.20" r="3.2" fill="#0d0d0d"/>
<circle cx="419.30" cy="1027.10" r="3.2" fill="#0d0d0d"/>
<circle cx="422.80" cy="1027.10" r="3.2" fill="#0d0d0d"/>
<circle cx="426.40" cy="1027.10" r="3.2" fill="#0d0d0d"/>
<circle cx="430.00" cy="1027.10" r="3.2" fill="#0d0d0d"/>
<circle cx="433.20" cy="1027.10" r="3.2" fill="#0d0d0d"/>
<line x1="417.50" y1="1026.00" x2="435.50" y2="1026.00" stroke="#0d0d0d" stroke-width="1.8"/>
<line x1="457.10" y1="1010.20" x2="457.10" y2="1021.00" stroke="#e33a25" stroke-width="1.65"/>
<line x1="452.10" y1="1010.20" x2="462.10" y2="1010.20" stroke="#e33a25" stroke-width="1.65"/>
<line x1="452.10" y1="1021.00" x2="462.10" y2="1021.00" stroke="#e33a25" stroke-width="1.65"/>
<rect x="454.00" y="987.30" width="6.2" height="6.2" fill="#0d0d0d"/>
<rect x="454.00" y="995.90" width="6.2" height="6.2" fill="#0d0d0d"/>
<rect x="446.30" y="1011.50" width="6.2" height="6.2" fill="#0d0d0d"/>
<rect x="461.20" y="1015.00" width="6.2" height="6.2" fill="#0d0d0d"/>
<rect x="446.30" y="1020.30" width="6.2" height="6.2" fill="#0d0d0d"/>
<rect x="461.20" y="1025.10" width="6.2" height="6.2" fill="#0d0d0d"/>
<rect x="446.30" y="1030.40" width="6.2" height="6.2" fill="#0d0d0d"/>
<line x1="447.40" y1="1017.40" x2="466.80" y2="1017.40" stroke="#0d0d0d" stroke-width="1.8"/>
<line x1="508.40" y1="961.60" x2="508.40" y2="988.80" stroke="#e33a25" stroke-width="1.65"/>
<line x1="502.75" y1="961.60" x2="514.05" y2="961.60" stroke="#e33a25" stroke-width="1.65"/>
<line x1="502.75" y1="988.80" x2="514.05" y2="988.80" stroke="#e33a25" stroke-width="1.65"/>
<circle cx="508.40" cy="913.50" r="3.1" fill="#0d0d0d"/>
<circle cx="500.90" cy="973.80" r="3.1" fill="#0d0d0d"/>
<circle cx="515.60" cy="976.50" r="3.1" fill="#0d0d0d"/>
<circle cx="500.90" cy="981.00" r="3.1" fill="#0d0d0d"/>
<circle cx="508.40" cy="1000.40" r="3.1" fill="#0d0d0d"/>
<circle cx="508.40" cy="1006.50" r="3.1" fill="#0d0d0d"/>
<line x1="498.50" y1="975.50" x2="518.30" y2="975.50" stroke="#0d0d0d" stroke-width="1.8"/>
<line x1="539.30" y1="1006.10" x2="539.30" y2="1021.00" stroke="#e33a25" stroke-width="1.65"/>
<line x1="534.30" y1="1006.10" x2="544.30" y2="1006.10" stroke="#e33a25" stroke-width="1.65"/>
<line x1="534.30" y1="1021.00" x2="544.30" y2="1021.00" stroke="#e33a25" stroke-width="1.65"/>
<rect x="528.80" y="992.20" width="6.2" height="6.2" fill="#0d0d0d"/>
<rect x="536.20" y="989.30" width="6.2" height="6.2" fill="#0d0d0d"/>
<rect x="543.80" y="991.40" width="6.2" height="6.2" fill="#0d0d0d"/>
<rect x="536.20" y="1011.80" width="6.2" height="6.2" fill="#0d0d0d"/>
<rect x="536.20" y="1017.70" width="6.2" height="6.2" fill="#0d0d0d"/>
<rect x="532.50" y="1035.70" width="6.2" height="6.2" fill="#0d0d0d"/>
<rect x="539.70" y="1032.70" width="6.2" height="6.2" fill="#0d0d0d"/>
<line x1="528.90" y1="1012.90" x2="549.70" y2="1012.90" stroke="#0d0d0d" stroke-width="1.8"/>
<text transform="translate(267.49,21.41) scale(0.656,1)" font-size="28.73"  fill="#4a4fb4">DMSO</text>
<text transform="translate(380.37,21.41) scale(0.639,1)" font-size="29.01"  fill="#4a4fb4">Carv</text>
<text transform="translate(3.02,61.68) scale(1.055,1)" font-size="43.02" font-weight="bold" stroke="#0d0d0d" stroke-width="0.28" fill="#0d0d0d">A</text>
<text transform="translate(302.07,64.70) scale(0.960,1)" font-size="47.83" font-weight="bold" stroke="#0d0d0d" stroke-width="0.31" fill="#0d0d0d">B</text>
<text transform="translate(-0.71,354.52) scale(0.916,1)" font-size="48.17" font-weight="bold" stroke="#0d0d0d" stroke-width="0.33" fill="#0d0d0d">C</text>
<text transform="translate(426.70,355.50) scale(0.954,1)" font-size="47.54" font-weight="bold" stroke="#0d0d0d" stroke-width="0.31" fill="#0d0d0d">D</text>
<text transform="translate(19.15,615.80) scale(0.935,1)" font-size="47.68" font-weight="bold" stroke="#0d0d0d" stroke-width="0.32" fill="#0d0d0d">E</text>
<text transform="translate(129.82,875.10) scale(0.937,1)" font-size="48.12" font-weight="bold" stroke="#0d0d0d" stroke-width="0.32" fill="#0d0d0d">F</text>
<text transform="translate(76.61,83.69)" font-size="21.00" font-weight="bold" stroke="#0d0d0d" stroke-width="0.30" fill="#0d0d0d">MIAT in mouse LV</text>
<text transform="translate(425.86,55.49)" font-size="21.00" font-weight="bold" stroke="#0d0d0d" stroke-width="0.30" fill="#0d0d0d">MIAT in mouse LV</text>
<text transform="translate(173.60,343.19)" font-size="21.00" font-weight="bold" stroke="#0d0d0d" stroke-width="0.30" fill="#0d0d0d">MIAT in HCF</text>
<text transform="translate(502.08,343.59)" font-size="21.00" font-weight="bold" stroke="#0d0d0d" stroke-width="0.30" fill="#0d0d0d">MIAT in AC-16</text>
<text transform="translate(303.24,602.79)" font-size="21.00" font-weight="bold" stroke="#0d0d0d" stroke-width="0.30" fill="#0d0d0d">MIAT in H9c2</text>
<text transform="translate(318.21,861.19)" font-size="21.00" font-weight="bold" stroke="#0d0d0d" stroke-width="0.30" fill="#0d0d0d">MIAT in HL-1</text>
<text transform="translate(157.03,111.54)" font-size="16.30" font-weight="bold" stroke="#0d0d0d" stroke-width="0.30" fill="#0d0d0d">3D</text>
<text transform="translate(506.03,85.62)" font-size="16.90" font-weight="bold" stroke="#0d0d0d" stroke-width="0.30" fill="#0d0d0d">7D</text>
<text transform="translate(116.89,369.43)" font-size="16.90" font-weight="bold" stroke="#0d0d0d" stroke-width="0.30" fill="#0d0d0d">16H</text>
<text transform="translate(322.70,369.20)" font-size="16.90" font-weight="bold" stroke="#0d0d0d" stroke-width="0.30" fill="#0d0d0d">24H</text>
<text transform="translate(562.80,370.80)" font-size="16.90" font-weight="bold" stroke="#0d0d0d" stroke-width="0.30" fill="#0d0d0d">4H</text>
<text transform="translate(151.70,624.90)" font-size="16.90" font-weight="bold" stroke="#0d0d0d" stroke-width="0.30" fill="#0d0d0d">4H</text>
<text transform="translate(353.49,623.63)" font-size="16.90" font-weight="bold" stroke="#0d0d0d" stroke-width="0.30" fill="#0d0d0d">16H</text>
<text transform="translate(561.55,623.40)" font-size="16.90" font-weight="bold" stroke="#0d0d0d" stroke-width="0.30" fill="#0d0d0d">24H</text>
<text transform="translate(267.85,875.90)" font-size="16.90" font-weight="bold" stroke="#0d0d0d" stroke-width="0.30" fill="#0d0d0d">4H</text>
<text transform="translate(467.75,875.30)" font-size="16.90" font-weight="bold" stroke="#0d0d0d" stroke-width="0.30" fill="#0d0d0d">24H</text>
<text transform="translate(48.00,281.16) rotate(-90) scale(0.907,1)" font-size="16.31" font-weight="bold" stroke="#0d0d0d" stroke-width="0.30" fill="#0d0d0d">Relative expression level</text>
<text transform="translate(56.32,112.52) scale(0.930,1)" font-size="13.30" font-weight="bold" stroke="#0d0d0d" stroke-width="0.32" fill="#0d0d0d">1.5</text>
<text transform="translate(56.50,169.39) scale(0.930,1)" font-size="13.30" font-weight="bold" stroke="#0d0d0d" stroke-width="0.32" fill="#0d0d0d">1.0</text>
<text transform="translate(56.32,225.79) scale(0.930,1)" font-size="13.30" font-weight="bold" stroke="#0d0d0d" stroke-width="0.32" fill="#0d0d0d">0.5</text>
<text transform="translate(56.50,281.99) scale(0.930,1)" font-size="13.30" font-weight="bold" stroke="#0d0d0d" stroke-width="0.32" fill="#0d0d0d">0.0</text>
<text transform="translate(163.06,146.93)" font-size="25.50" font-weight="bold" stroke="#0d0d0d" stroke-width="0.30" fill="#0d0d0d">*</text>
<text transform="translate(336.00,263.76) rotate(-90) scale(0.973,1)" font-size="15.18" font-weight="bold" stroke="#0d0d0d" stroke-width="0.30" fill="#0d0d0d">Relative expresssion level</text>
<text transform="translate(343.61,76.76)" font-size="13.80" font-weight="bold" stroke="#0d0d0d" stroke-width="0.30" fill="#0d0d0d">4</text>
<text transform="translate(344.02,126.36)" font-size="13.80" font-weight="bold" stroke="#0d0d0d" stroke-width="0.30" fill="#0d0d0d">3</text>
<text transform="translate(344.09,176.03)" font-size="13.80" font-weight="bold" stroke="#0d0d0d" stroke-width="0.30" fill="#0d0d0d">2</text>
<text transform="translate(343.89,225.56)" font-size="13.80" font-weight="bold" stroke="#0d0d0d" stroke-width="0.30" fill="#0d0d0d">1</text>
<text transform="translate(344.09,275.16)" font-size="13.80" font-weight="bold" stroke="#0d0d0d" stroke-width="0.30" fill="#0d0d0d">0</text>
<text transform="translate(385.71,142.33)" font-size="25.50" font-weight="bold" stroke="#0d0d0d" stroke-width="0.30" fill="#0d0d0d">*</text>
<text transform="translate(443.65,140.47) scale(0.930,1)" font-size="13.00" font-weight="bold" stroke="#0d0d0d" stroke-width="0.32" fill="#0d0d0d">NS</text>
<text transform="translate(505.41,186.03)" font-size="25.50" font-weight="bold" stroke="#0d0d0d" stroke-width="0.30" fill="#0d0d0d">**</text>
<text transform="translate(572.70,143.87) scale(0.930,1)" font-size="13.00" font-weight="bold" stroke="#0d0d0d" stroke-width="0.32" fill="#0d0d0d">NS</text>
<text transform="translate(634.05,104.47) scale(0.930,1)" font-size="13.00" font-weight="bold" stroke="#0d0d0d" stroke-width="0.32" fill="#0d0d0d">NS</text>
<text transform="translate(377.56,285.80)" font-size="15.00" font-weight="bold" stroke="#0d0d0d" stroke-width="0.30" fill="#0d0d0d">WT</text>
<text transform="translate(430.77,286.19)" font-size="14.80"  fill="#0d0d0d">β</text>
<text transform="translate(439.65,286.43)" font-size="15.00" font-weight="bold" stroke="#0d0d0d" stroke-width="0.30" fill="#0d0d0d">1AR</text>
<text transform="translate(489.82,286.19)" font-size="14.80"  fill="#0d0d0d">β</text>
<text transform="translate(498.39,286.43)" font-size="15.00" font-weight="bold" stroke="#0d0d0d" stroke-width="0.30" fill="#0d0d0d">2AR</text>
<text transform="translate(547.57,286.19)" font-size="14.80"  fill="#0d0d0d">β</text>
<text transform="translate(556.41,287.12)" font-size="15.00" font-weight="bold" stroke="#0d0d0d" stroke-width="0.30" fill="#0d0d0d">1/</text>
<text transform="translate(569.02,286.19)" font-size="14.80"  fill="#0d0d0d">β</text>
<text transform="translate(577.59,286.23)" font-size="15.00" font-weight="bold" stroke="#0d0d0d" stroke-width="0.30" fill="#0d0d0d">2AR</text>
<text transform="translate(621.62,286.19)" font-size="14.80"  fill="#0d0d0d">β</text>
<text transform="translate(629.04,286.05)" font-size="15.00" font-weight="bold" stroke="#0d0d0d" stroke-width="0.30" fill="#0d0d0d">-arr1</text>
<text transform="translate(439.51,304.65)" font-size="15.00" font-weight="bold" stroke="#0d0d0d" stroke-width="0.30" fill="#0d0d0d">KO</text>
<text transform="translate(498.51,304.65)" font-size="15.00" font-weight="bold" stroke="#0d0d0d" stroke-width="0.30" fill="#0d0d0d">KO</text>
<text transform="translate(560.81,304.65)" font-size="15.00" font-weight="bold" stroke="#0d0d0d" stroke-width="0.30" fill="#0d0d0d">DKO</text>
<text transform="translate(630.01,304.65)" font-size="15.00" font-weight="bold" stroke="#0d0d0d" stroke-width="0.30" fill="#0d0d0d">KO</text>
<text transform="translate(14.90,551.59) rotate(-90) scale(0.994,1)" font-size="13.76" font-weight="bold" stroke="#0d0d0d" stroke-width="0.30" fill="#0d0d0d">Relative expresssion level</text>
<text transform="translate(20.47,385.35) scale(0.950,1)" font-size="13.20" font-weight="bold" stroke="#0d0d0d" stroke-width="0.32" fill="#0d0d0d">2.0</text>
<text transform="translate(20.28,427.64) scale(0.950,1)" font-size="13.20" font-weight="bold" stroke="#0d0d0d" stroke-width="0.32" fill="#0d0d0d">1.5</text>
<text transform="translate(20.47,470.05) scale(0.950,1)" font-size="13.20" font-weight="bold" stroke="#0d0d0d" stroke-width="0.32" fill="#0d0d0d">1.0</text>
<text transform="translate(20.28,512.40) scale(0.950,1)" font-size="13.20" font-weight="bold" stroke="#0d0d0d" stroke-width="0.32" fill="#0d0d0d">0.5</text>
<text transform="translate(20.47,554.75) scale(0.950,1)" font-size="13.20" font-weight="bold" stroke="#0d0d0d" stroke-width="0.32" fill="#0d0d0d">0.0</text>
<text transform="translate(107.18,401.03) scale(0.950,1)" font-size="13.50" font-weight="bold" stroke="#0d0d0d" stroke-width="0.32" fill="#0d0d0d">##</text>
<text transform="translate(82.61,443.83)" font-size="25.50" font-weight="bold" stroke="#0d0d0d" stroke-width="0.30" fill="#0d0d0d">*</text>
<text transform="translate(168.18,423.53)" font-size="25.50" font-weight="bold" stroke="#0d0d0d" stroke-width="0.30" fill="#0d0d0d">***</text>
<text transform="translate(55.75,564.16)" font-size="14.00" font-weight="bold" stroke="#0d0d0d" stroke-width="0.30" fill="#0d0d0d">Normoxia</text>
<text transform="translate(161.08,565.44)" font-size="14.30" font-weight="bold" stroke="#0d0d0d" stroke-width="0.30" fill="#0d0d0d">H/R</text>
<text transform="translate(230.50,549.89) rotate(-90) scale(0.965,1)" font-size="14.18" font-weight="bold" stroke="#0d0d0d" stroke-width="0.30" fill="#0d0d0d">Relative expresssion level</text>
<text transform="translate(237.54,384.96)" font-size="13.20" font-weight="bold" stroke="#0d0d0d" stroke-width="0.30" fill="#0d0d0d">3</text>
<text transform="translate(237.60,441.46)" font-size="13.20" font-weight="bold" stroke="#0d0d0d" stroke-width="0.30" fill="#0d0d0d">2</text>
<text transform="translate(237.40,497.82)" font-size="13.20" font-weight="bold" stroke="#0d0d0d" stroke-width="0.30" fill="#0d0d0d">1</text>
<text transform="translate(237.60,554.25)" font-size="13.20" font-weight="bold" stroke="#0d0d0d" stroke-width="0.30" fill="#0d0d0d">0</text>
<text transform="translate(306.24,384.23) scale(0.950,1)" font-size="13.50" font-weight="bold" stroke="#0d0d0d" stroke-width="0.32" fill="#0d0d0d">#</text>
<text transform="translate(289.51,484.23)" font-size="25.50" font-weight="bold" stroke="#0d0d0d" stroke-width="0.30" fill="#0d0d0d">*</text>
<text transform="translate(376.20,394.53)" font-size="25.50" font-weight="bold" stroke="#0d0d0d" stroke-width="0.30" fill="#0d0d0d">**</text>
<text transform="translate(261.00,563.66)" font-size="14.00" font-weight="bold" stroke="#0d0d0d" stroke-width="0.30" fill="#0d0d0d">Normoxia</text>
<text transform="translate(366.53,563.44)" font-size="14.30" font-weight="bold" stroke="#0d0d0d" stroke-width="0.30" fill="#0d0d0d">H/R</text>
<text transform="translate(443.40,543.89) rotate(-90) scale(0.954,1)" font-size="14.33" font-weight="bold" stroke="#0d0d0d" stroke-width="0.30" fill="#0d0d0d">Relative expression level</text>
<text transform="translate(448.84,382.05)" font-size="13.20" font-weight="bold" stroke="#0d0d0d" stroke-width="0.30" fill="#0d0d0d">3</text>
<text transform="translate(448.90,438.82)" font-size="13.20" font-weight="bold" stroke="#0d0d0d" stroke-width="0.30" fill="#0d0d0d">2</text>
<text transform="translate(448.70,495.45)" font-size="13.20" font-weight="bold" stroke="#0d0d0d" stroke-width="0.30" fill="#0d0d0d">1</text>
<text transform="translate(448.90,552.15)" font-size="13.20" font-weight="bold" stroke="#0d0d0d" stroke-width="0.30" fill="#0d0d0d">0</text>
<text transform="translate(537.58,389.53) scale(0.950,1)" font-size="13.50" font-weight="bold" stroke="#0d0d0d" stroke-width="0.32" fill="#0d0d0d">##</text>
<text transform="translate(502.41,481.93)" font-size="25.50" font-weight="bold" stroke="#0d0d0d" stroke-width="0.30" fill="#0d0d0d">**</text>
<text transform="translate(633.65,402.73)" font-size="25.50" font-weight="bold" stroke="#0d0d0d" stroke-width="0.30" fill="#0d0d0d">**</text>
<text transform="translate(481.35,562.36)" font-size="14.00" font-weight="bold" stroke="#0d0d0d" stroke-width="0.30" fill="#0d0d0d">Normoxia</text>
<text transform="translate(614.63,561.94)" font-size="14.30" font-weight="bold" stroke="#0d0d0d" stroke-width="0.30" fill="#0d0d0d">H/R</text>
<text transform="translate(61.84,642.65)" font-size="13.20" font-weight="bold" stroke="#0d0d0d" stroke-width="0.30" fill="#0d0d0d">6</text>
<text transform="translate(61.44,699.29)" font-size="13.20" font-weight="bold" stroke="#0d0d0d" stroke-width="0.30" fill="#0d0d0d">4</text>
<text transform="translate(61.90,755.99)" font-size="13.20" font-weight="bold" stroke="#0d0d0d" stroke-width="0.30" fill="#0d0d0d">2</text>
<text transform="translate(61.90,812.55)" font-size="13.20" font-weight="bold" stroke="#0d0d0d" stroke-width="0.30" fill="#0d0d0d">0</text>
<text transform="translate(55.50,807.49) rotate(-90) scale(0.961,1)" font-size="14.18" font-weight="bold" stroke="#0d0d0d" stroke-width="0.30" fill="#0d0d0d">Relative expresssion level</text>
<text transform="translate(134.93,649.53) scale(0.950,1)" font-size="13.50" font-weight="bold" stroke="#0d0d0d" stroke-width="0.32" fill="#0d0d0d">##</text>
<text transform="translate(198.25,667.23)" font-size="25.50" font-weight="bold" stroke="#0d0d0d" stroke-width="0.30" fill="#0d0d0d">**</text>
<text transform="translate(83.95,821.16)" font-size="14.00" font-weight="bold" stroke="#0d0d0d" stroke-width="0.30" fill="#0d0d0d">Normoxia</text>
<text transform="translate(192.73,821.94)" font-size="14.30" font-weight="bold" stroke="#0d0d0d" stroke-width="0.30" fill="#0d0d0d">H/R</text>
<text transform="translate(268.04,642.55)" font-size="13.20" font-weight="bold" stroke="#0d0d0d" stroke-width="0.30" fill="#0d0d0d">6</text>
<text transform="translate(267.64,699.22)" font-size="13.20" font-weight="bold" stroke="#0d0d0d" stroke-width="0.30" fill="#0d0d0d">4</text>
<text transform="translate(268.10,755.95)" font-size="13.20" font-weight="bold" stroke="#0d0d0d" stroke-width="0.30" fill="#0d0d0d">2</text>
<text transform="translate(268.10,812.55)" font-size="13.20" font-weight="bold" stroke="#0d0d0d" stroke-width="0.30" fill="#0d0d0d">0</text>
<text transform="translate(262.90,808.59) rotate(-90) scale(0.984,1)" font-size="13.90" font-weight="bold" stroke="#0d0d0d" stroke-width="0.30" fill="#0d0d0d">Relative expresssion level</text>
<text transform="translate(339.78,644.43) scale(0.950,1)" font-size="13.50" font-weight="bold" stroke="#0d0d0d" stroke-width="0.32" fill="#0d0d0d">##</text>
<text transform="translate(405.36,660.33)" font-size="25.50" font-weight="bold" stroke="#0d0d0d" stroke-width="0.30" fill="#0d0d0d">**</text>
<text transform="translate(289.81,822.16)" font-size="14.00" font-weight="bold" stroke="#0d0d0d" stroke-width="0.30" fill="#0d0d0d">Normoxia</text>
<text transform="translate(396.33,821.94)" font-size="14.30" font-weight="bold" stroke="#0d0d0d" stroke-width="0.30" fill="#0d0d0d">H/R</text>
<text transform="translate(476.94,641.85)" font-size="13.20" font-weight="bold" stroke="#0d0d0d" stroke-width="0.30" fill="#0d0d0d">6</text>
<text transform="translate(476.54,698.59)" font-size="13.20" font-weight="bold" stroke="#0d0d0d" stroke-width="0.30" fill="#0d0d0d">4</text>
<text transform="translate(477.00,755.39)" font-size="13.20" font-weight="bold" stroke="#0d0d0d" stroke-width="0.30" fill="#0d0d0d">2</text>
<text transform="translate(477.00,812.05)" font-size="13.20" font-weight="bold" stroke="#0d0d0d" stroke-width="0.30" fill="#0d0d0d">0</text>
<text transform="translate(470.30,807.59) rotate(-90) scale(0.961,1)" font-size="14.18" font-weight="bold" stroke="#0d0d0d" stroke-width="0.30" fill="#0d0d0d">Relative expresssion level</text>
<text transform="translate(546.03,638.43) scale(0.950,1)" font-size="13.50" font-weight="bold" stroke="#0d0d0d" stroke-width="0.32" fill="#0d0d0d">##</text>
<text transform="translate(616.20,651.03)" font-size="25.50" font-weight="bold" stroke="#0d0d0d" stroke-width="0.30" fill="#0d0d0d">**</text>
<text transform="translate(499.45,820.86)" font-size="14.00" font-weight="bold" stroke="#0d0d0d" stroke-width="0.30" fill="#0d0d0d">Normoxia</text>
<text transform="translate(604.53,821.84)" font-size="14.30" font-weight="bold" stroke="#0d0d0d" stroke-width="0.30" fill="#0d0d0d">H/R</text>
<text transform="translate(173.90,1059.59) rotate(-90) scale(1.012,1)" font-size="13.48" font-weight="bold" stroke="#0d0d0d" stroke-width="0.30" fill="#0d0d0d">Relative expresssion level</text>
<text transform="translate(179.04,893.55)" font-size="13.20" font-weight="bold" stroke="#0d0d0d" stroke-width="0.30" fill="#0d0d0d">6</text>
<text transform="translate(178.64,950.05)" font-size="13.20" font-weight="bold" stroke="#0d0d0d" stroke-width="0.30" fill="#0d0d0d">4</text>
<text transform="translate(179.10,1006.42)" font-size="13.20" font-weight="bold" stroke="#0d0d0d" stroke-width="0.30" fill="#0d0d0d">2</text>
<text transform="translate(179.10,1052.35)" font-size="13.20" font-weight="bold" stroke="#0d0d0d" stroke-width="0.30" fill="#0d0d0d">0</text>
<text transform="translate(246.89,891.43) scale(0.950,1)" font-size="13.50" font-weight="bold" stroke="#0d0d0d" stroke-width="0.32" fill="#0d0d0d">###</text>
<text transform="translate(315.08,906.83)" font-size="25.50" font-weight="bold" stroke="#0d0d0d" stroke-width="0.30" fill="#0d0d0d">***</text>
<text transform="translate(203.00,1061.96)" font-size="14.00" font-weight="bold" stroke="#0d0d0d" stroke-width="0.30" fill="#0d0d0d">Normoxia</text>
<text transform="translate(309.03,1061.94)" font-size="14.30" font-weight="bold" stroke="#0d0d0d" stroke-width="0.30" fill="#0d0d0d">H/R</text>
<text transform="translate(386.90,1055.19) rotate(-90) scale(0.994,1)" font-size="13.76" font-weight="bold" stroke="#0d0d0d" stroke-width="0.30" fill="#0d0d0d">Relative expresssion level</text>
<text transform="translate(390.90,897.05)" font-size="13.20"  stroke="#0d0d0d" stroke-width="0.75" fill="#0d0d0d">8</text>
<text transform="translate(390.90,935.43)" font-size="13.20"  stroke="#0d0d0d" stroke-width="0.75" fill="#0d0d0d">6</text>
<text transform="translate(390.77,973.77)" font-size="13.20"  stroke="#0d0d0d" stroke-width="0.75" fill="#0d0d0d">4</text>
<text transform="translate(391.03,1012.25)" font-size="13.20"  stroke="#0d0d0d" stroke-width="0.75" fill="#0d0d0d">2</text>
<text transform="translate(390.84,1050.55)" font-size="13.20"  stroke="#0d0d0d" stroke-width="0.75" fill="#0d0d0d">0</text>
<text transform="translate(457.73,896.33) scale(0.950,1)" font-size="13.50" font-weight="bold" stroke="#0d0d0d" stroke-width="0.32" fill="#0d0d0d">##</text>
<text transform="translate(520.26,910.93)" font-size="25.50" font-weight="bold" stroke="#0d0d0d" stroke-width="0.30" fill="#0d0d0d">*</text>
<text transform="translate(411.00,1061.16)" font-size="14.00" font-weight="bold" stroke="#0d0d0d" stroke-width="0.30" fill="#0d0d0d">Normoxia</text>
<text transform="translate(508.53,1060.34)" font-size="14.30" font-weight="bold" stroke="#0d0d0d" stroke-width="0.30" fill="#0d0d0d">H/R</text>
</svg></body></html>
